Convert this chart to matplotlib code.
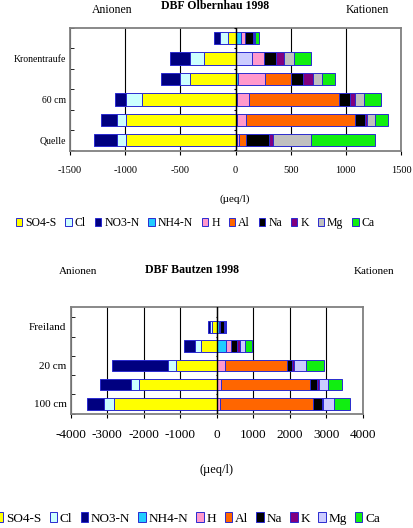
import numpy as np
import matplotlib
matplotlib.use("Agg")
import matplotlib.pyplot as plt
from matplotlib.patches import Patch

plt.rcParams['font.family'] = ['Liberation Serif', 'DejaVu Serif']
plt.rcParams['axes.unicode_minus'] = False

# series names as in the legend
species = ['SO4-S', 'Cl', 'NO3-N', 'NH4-N', 'H', 'Al', 'Na', 'K', 'Mg', 'Ca']

# DBF Olbernhau 1998 (rows listed top to bottom), µeq/l
olb_rows = ['', 'Kronentraufe', '', '60 cm', '', 'Quelle']
olb_so4 = [70, 289, 410, 846, 988, 994]
olb_cl = [68, 127, 96, 142, 84, 78]
olb_no3 = [55, 175, 166, 105, 150, 211]
olb_nh4 = [52, 148, 27, 18, 12, 12]
olb_h = [33, 114, 241, 108, 84, 24]
olb_al = [0, 0, 232, 810, 985, 60]
olb_na = [75, 105, 114, 105, 90, 211]
olb_k = [9, 75, 90, 45, 24, 36]
olb_mg = [5, 84, 81, 78, 66, 337]
olb_ca = [39, 157, 114, 157, 120, 587]

# DBF Bautzen 1998 (rows listed top to bottom), µeq/l
bau_rows = ['Freiland', '', '20 cm', '', '100 cm']
bau_so4 = [140, 431, 1119, 2119, 2826]
bau_cl = [50, 156, 211, 229, 257]
bau_no3 = [55, 303, 1532, 853, 459]
bau_nh4 = [70, 257, 0, 0, 0]
bau_h = [20, 128, 220, 119, 83]
bau_al = [0, 0, 1688, 2440, 2560]
bau_na = [100, 165, 138, 174, 229]
bau_k = [40, 73, 64, 73, 46]
bau_mg = [10, 138, 330, 248, 275]
bau_ca = [10, 202, 505, 367, 440]

colors = {'SO4-S': '#FFFF00', 'Cl': '#CCFFFF', 'NO3-N': '#000080',
          'NH4-N': '#22CCFF', 'H': '#FF99CC', 'Al': '#FF6600',
          'Na': '#000000', 'K': '#800080', 'Mg': '#C0C0C0', 'Ca': '#11EE11'}
edge = '#2a2ad0'


def draw(ax, rows, anions, cations, cols, xlim, xstep, fs_tick, fs_lab, ylim):
    n = len(rows)
    y = np.arange(n)[::-1]
    # anions go to the left
    left = np.zeros(n)
    for name, vals in anions:
        v = -np.array(vals, dtype=float)
        ax.barh(y, v, left=left, height=0.6, color=cols[name],
                edgecolor=edge, linewidth=0.7, zorder=3)
        left += v
    left = np.zeros(n)
    for name, vals in cations:
        v = np.array(vals, dtype=float)
        ax.barh(y, v, left=left, height=0.6, color=cols[name],
                edgecolor=edge, linewidth=0.7, zorder=3)
        left += v
    ax.set_xlim(*xlim)
    ax.set_ylim(*ylim)
    ax.set_xticks(np.arange(xlim[0], xlim[1] + 1, xstep))
    ax.tick_params(axis='x', labelsize=fs_tick, length=3, pad=8)
    ax.xaxis.grid(True, color='black', linewidth=0.8, zorder=0)
    ax.set_yticks(y)
    ax.set_yticklabels(rows, fontsize=fs_lab)
    ax.tick_params(axis='y', length=0, pad=3)
    bounds = np.arange(n + 1) - 0.5
    ax.set_yticks(bounds, minor=True)
    ax.tick_params(axis='y', which='minor', length=3, direction='in')
    # category axis crossing at zero with its tick marks
    ax.axvline(0, color='black', linewidth=1.0, zorder=4)
    ax.hlines(bounds, -xstep * 0.03, 0, color='black', linewidth=0.8, zorder=4)
    for s in ax.spines.values():
        s.set_color('#808080')
        s.set_linewidth(1.3)


fig = plt.figure(figsize=(4.13, 5.28), dpi=100)

# top chart
ax1 = fig.add_axes([0.1695, 0.714, 0.8015, 0.233])
cols1 = dict(colors)
draw(ax1, olb_rows,
     [('SO4-S', olb_so4), ('Cl', olb_cl), ('NO3-N', olb_no3)],
     [('NH4-N', olb_nh4), ('H', olb_h), ('Al', olb_al), ('Na', olb_na),
      ('K', olb_k), ('Mg', olb_mg), ('Ca', olb_ca)],
     cols1, (-1500, 1500), 500, 7.5, 7, (-0.53, 5.45))
# NH4-N point of Kronentraufe was formatted differently in the original
ax1.patches[6 * 3 + 1].set_facecolor('#CCCCFF')

fig.text(0.52, 0.988, 'DBF Olbernhau 1998', ha='center', va='center',
         fontsize=8.5, fontweight='bold')
fig.text(0.272, 0.981, 'Anionen', ha='center', va='center', fontsize=8.5)
fig.text(0.89, 0.981, 'Kationen', ha='center', va='center', fontsize=8.5)
fig.text(0.568, 0.622, '(µeq/l)', ha='center', va='center', fontsize=8)

handles1 = [Patch(facecolor=cols1[s], edgecolor=edge, linewidth=0.7) for s in species]
fig.legend(handles1, species, loc='center', bbox_to_anchor=(0.473, 0.577),
           ncol=10, frameon=False, fontsize=8.5, handlelength=0.55,
           handleheight=0.7, handletextpad=0.25, columnspacing=0.75,
           borderpad=0)

# bottom chart
ax2 = fig.add_axes([0.171, 0.216, 0.708, 0.203])
cols2 = dict(colors)
cols2['Mg'] = '#CCCCFF'
draw(ax2, bau_rows,
     [('SO4-S', bau_so4), ('Cl', bau_cl), ('NO3-N', bau_no3)],
     [('NH4-N', bau_nh4), ('H', bau_h), ('Al', bau_al), ('Na', bau_na),
      ('K', bau_k), ('Mg', bau_mg), ('Ca', bau_ca)],
     cols2, (-4000, 4000), 1000, 9.5, 8, (-0.52, 5.05))

fig.text(0.465, 0.489, 'DBF Bautzen 1998', ha='center', va='center',
         fontsize=8.5, fontweight='bold')
fig.text(0.19, 0.485, 'Anionen', ha='center', va='center', fontsize=8)
fig.text(0.905, 0.485, 'Kationen', ha='center', va='center', fontsize=8)
fig.text(0.525, 0.110, '(µeq/l)', ha='center', va='center', fontsize=9)

handles2 = [Patch(facecolor=cols2[s], edgecolor=edge, linewidth=0.7) for s in species]
fig.legend(handles2, species, loc='center', bbox_to_anchor=(0.455, 0.018),
           ncol=10, frameon=False, fontsize=9.5, handlelength=0.55,
           handleheight=0.7, handletextpad=0.2, columnspacing=0.65,
           borderpad=0)

fig.savefig('out.png', dpi=100, facecolor='white')
